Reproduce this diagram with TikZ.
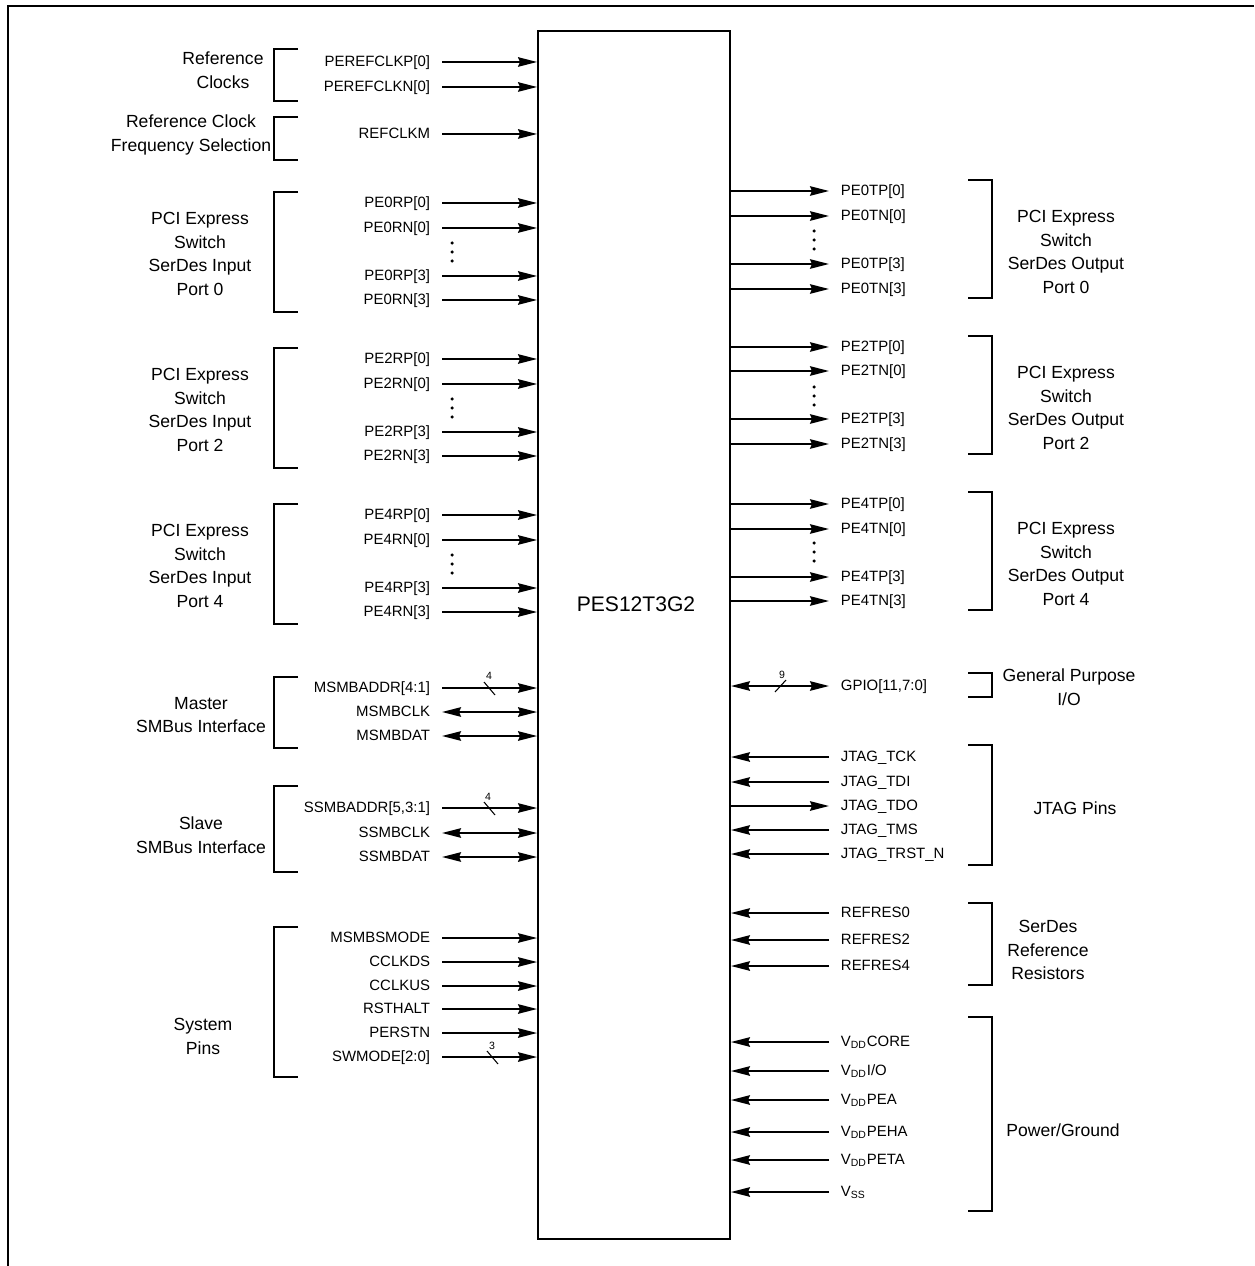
\documentclass[tikz,border=0pt]{standalone}
\usepackage{fontspec}
\setmainfont{Liberation Sans}
\usetikzlibrary{arrows.meta}

\tikzset{
  pintip/.tip={Stealth[length=0.38cm,width=0.19cm,inset=0.04cm]},
  pinl/.style={anchor=east,font=\fontsize{8.5}{10}\selectfont,text height=6.5pt,text depth=1.5pt,inner xsep=0.22cm,inner ysep=0pt},
  pinr/.style={pinl,anchor=west},
  grp/.style={align=center,font=\fontsize{10}{13.6}\selectfont,inner sep=0pt},
  sig/.style={-pintip},
  bisig/.style={pintip-pintip},
  bus/.style={font=\fontsize{6}{6}\selectfont,inner sep=0pt},
  slash/.style={line width=0.6pt},
}

\begin{document}
\begin{tikzpicture}[x=0.02cm,y=-0.02cm,line width=1.1pt]
      \useasboundingbox (0,0) rectangle (1254,1266);
      \draw (1254,6) -- (8,6) -- (8,1266);

      \node[draw,minimum width=3.84cm,minimum height=24.16cm,inner sep=0] (chip) at (634,635) {};
      \node[font=\fontsize{12}{14}\selectfont] (name) at (636,604) {PES12T3G2};

      %% inputs on the left
      \foreach \y/\t [count=\n] in {62/PEREFCLKP[0],87/PEREFCLKN[0],134/REFCLKM,
          203/PE0RP[0],228/PE0RN[0],276/PE0RP[3],300/PE0RN[3],
          359/PE2RP[0],384/PE2RN[0],432/PE2RP[3],456/PE2RN[3],
          515/PE4RP[0],540/PE4RN[0],588/PE4RP[3],612/PE4RN[3],
          688/MSMBADDR[4:1],808/{SSMBADDR[5,3:1]},
          938/MSMBSMODE,962/CCLKDS,986/CCLKUS,1009/RSTHALT,1033/PERSTN,1057/SWMODE[2:0]} {
        \node[pinl] (in\n) at (442,\y) {\t};
        \draw[sig] (in\n.east) -- (in\n.east -| chip.west);
      }
      \foreach \y/\t [count=\n] in {712/MSMBCLK,736/MSMBDAT,833/SSMBCLK,857/SSMBDAT} {
        \node[pinl] (io\n) at (442,\y) {\t};
        \draw[bisig] (io\n.east) -- (io\n.east -| chip.west);
      }

      %% outputs on the right
      \foreach \y/\t [count=\n] in {191/PE0TP[0],216/PE0TN[0],264/PE0TP[3],289/PE0TN[3],
          347/PE2TP[0],371/PE2TN[0],419/PE2TP[3],444/PE2TN[3],
          504/PE4TP[0],529/PE4TN[0],577/PE4TP[3],601/PE4TN[3],806/JTAG\_TDO} {
        \node[pinr] (out\n) at (829,\y) {\t};
        \draw[sig] (out\n.west -| chip.east) -- (out\n.west);
      }
      \foreach \y/\t [count=\n] in {757/JTAG\_TCK,782/JTAG\_TDI,830/JTAG\_TMS,854/JTAG\_TRST\_N,
          913/REFRES0,940/REFRES2,966/REFRES4,
          1042/V\textsubscript{DD}CORE,1071/{V\textsubscript{DD}I/O},1100/V\textsubscript{DD}PEA,
          1132/V\textsubscript{DD}PEHA,1160/V\textsubscript{DD}PETA,1192/V\textsubscript{SS}} {
        \node[pinr] (rin\n) at (829,\y) {\t};
        \draw[sig] (rin\n.west) -- (rin\n.west -| chip.east);
      }
      \node[pinr] (gpio) at (829,686) {GPIO[11,7:0]};
      \draw[bisig] (gpio.west -| chip.east) -- (gpio.west);

      %% bus widths
      \draw[slash] (484,682) -- (495,695);
      \node[bus] (w1) at (489,676) {4};
      \draw[slash] (484,802) -- (495,815);
      \node[bus] (w2) at (488,797) {4};
      \draw[slash] (487,1051) -- (498,1064);
      \node[bus] (w3) at (492,1046) {3};
      \draw[slash] (786,680) -- (775,692);
      \node[bus] (w4) at (782,675) {9};

      %% dots
      \foreach \x/\y in {452/252,452/408,452/564,814/240,814/396,814/552} {
        \fill (\x,\y-9) circle (0.035cm) (\x,\y) circle (0.035cm) (\x,\y+9) circle (0.035cm);
      }

      %% brackets
      \foreach \a/\b in {49/101,117/160,192/312,348/468,504/624,677/748,786/872,927/1077}
        \draw (298,\a) -- (274,\a) -- (274,\b) -- (298,\b);
      \foreach \a/\b in {180/298,336/454,492/610,673/697,745/865,903/985,1017/1211}
        \draw (968,\a) -- (992,\a) -- (992,\b) -- (968,\b);

      %% group names
      \node[grp] (g1) at (223,70) {Reference\\Clocks};
      \node[grp] (g2) at (191,135) {Reference Clock\\Frequency Selection};
      \node[grp] (g3) at (200,254) {PCI Express\\Switch\\SerDes Input\\Port 0};
      \node[grp] (g4) at (200,410) {PCI Express\\Switch\\SerDes Input\\Port 2};
      \node[grp] (g5) at (200,566) {PCI Express\\Switch\\SerDes Input\\Port 4};
      \node[grp] (g6) at (201,715) {Master\\SMBus Interface};
      \node[grp] (g7) at (201,835) {Slave\\SMBus Interface};
      \node[grp] (g8) at (203,1036) {System\\Pins};
      \node[grp] (g9) at (1066,252) {PCI Express\\Switch\\SerDes Output\\Port 0};
      \node[grp] (g10) at (1066,408) {PCI Express\\Switch\\SerDes Output\\Port 2};
      \node[grp] (g11) at (1066,564) {PCI Express\\Switch\\SerDes Output\\Port 4};
      \node[grp] (g12) at (1069,687) {General Purpose\\I/O};
      \node[grp] (g13) at (1075,808) {JTAG Pins};
      \node[grp] (g14) at (1048,950) {SerDes\\Reference\\Resistors};
      \node[grp] (g15) at (1063,1130) {Power/Ground};
\end{tikzpicture}
\end{document}
